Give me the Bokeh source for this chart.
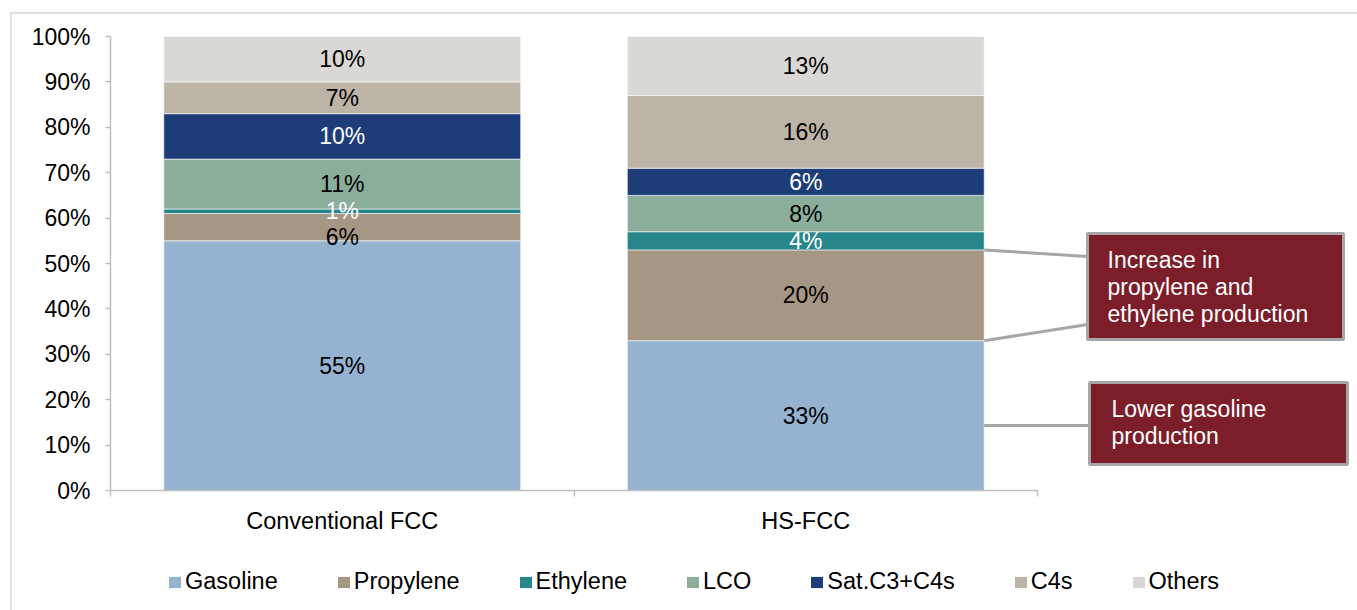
from bokeh.plotting import figure
from bokeh.layouts import column
from bokeh.models import (ColumnDataSource, Range1d, FixedTicker, Legend, LegendItem)
from bokeh.core.properties import value
from bokeh.embed import file_html
from bokeh.resources import INLINE

# ---- data -------------------------------------------------------------
processes = ["Conventional FCC", "HS-FCC"]
products = ["Gasoline", "Propylene", "Ethylene", "LCO", "Sat.C3+C4s", "C4s", "Others"]
gasoline = [55, 33]
propylene = [6, 20]
ethylene = [1, 4]
lco = [11, 8]
sat_c3_c4 = [10, 6]
c4s = [7, 16]
others = [10, 13]
y_ticks = [0, 10, 20, 30, 40, 50, 60, 70, 80, 90, 100]

colors = ["#95B3D0", "#A69784", "#27868B", "#8BAE9B", "#1C3D78", "#BDB4A8", "#DAD8D4"]
label_colors = ["black", "black", "white", "black", "white", "black", "black"]

FONT = "Liberation Sans"
FS = "23px"

series = [gasoline, propylene, ethylene, lco, sat_c3_c4, c4s, others]
x_pos = [0.5, 1.5]
BAR_W = 0.77

# ---- figure layout (pixels) ------------------------------------------
W = 1345
H_MAIN, H_LEG = 540, 56
LEFT, RIGHT, TOP, BOTTOM = 98, 7, 22, 64
frame_w = W - LEFT - RIGHT
frame_h = H_MAIN - TOP - BOTTOM
PX_PER_CAT = 463.5
x_end = frame_w / PX_PER_CAT

p = figure(width=W, height=H_MAIN, output_backend="svg", toolbar_location=None,
           x_range=Range1d(0, x_end), y_range=Range1d(0, 100),
           min_border_left=LEFT, min_border_right=RIGHT,
           min_border_top=TOP, min_border_bottom=BOTTOM,
           background_fill_color="white", border_fill_color="white")
p.outline_line_color = None
p.grid.visible = False

# ---- stacked bars -----------------------------------------------------
data = {"x": x_pos}
for name, vals in zip(products, series):
    data[name] = vals
src = ColumnDataSource(data)
p.vbar_stack(products, x="x", width=BAR_W, source=src,
             fill_color=colors, line_color="white",
             line_width=1, line_alpha=0.6)

# ---- value labels -----------------------------------------------------
lx, ly, lt, lc, loff = [], [], [], [], []
for j, xp in enumerate(x_pos):
    base = 0
    for i, vals in enumerate(series):
        v = vals[j]
        lx.append(xp)
        ly.append(base + v / 2)
        lt.append(f"{v}%")
        lc.append(label_colors[i])
        # the thin propylene slice of the conventional bar sits its label lower
        loff.append(10 if (j == 0 and i == 1) else 0)
        base += v
p.text(x=lx, y=ly, text=lt, text_color=lc, y_offset=loff,
       text_align="center", text_baseline="middle",
       text_font=value(FONT), text_font_size=FS)

# ---- axes -------------------------------------------------------------
AX_COL = "#BFBFBF"
yax = p.yaxis[0]
yax.ticker = FixedTicker(ticks=y_ticks)
yax.major_label_overrides = {t: f"{t}%" for t in y_ticks}
yax.bounds = (0, 100)
yax.axis_line_color = AX_COL
yax.axis_line_width = 1.5
yax.major_tick_line_color = AX_COL
yax.major_tick_line_width = 1.5
yax.major_tick_out = 5
yax.major_tick_in = 0
yax.minor_tick_line_color = None
yax.major_label_standoff = 15
yax.major_label_text_font = FONT
yax.major_label_text_font_size = FS
yax.major_label_text_color = "black"

xax = p.xaxis[0]
xax.ticker = FixedTicker(ticks=x_pos, minor_ticks=[0, 1, 2])
xax.major_label_overrides = {x: n for x, n in zip(x_pos, processes)}
xax.bounds = (0, 2)
xax.axis_line_color = AX_COL
xax.axis_line_width = 1.5
xax.major_tick_line_color = None
xax.major_tick_out = 0
xax.major_tick_in = 0
xax.minor_tick_line_color = AX_COL
xax.minor_tick_line_width = 1.5
xax.minor_tick_out = 6
xax.minor_tick_in = 0
xax.major_label_standoff = 11
xax.major_label_text_font = FONT
xax.major_label_text_font_size = "23.5px"
xax.major_label_text_color = "black"

# ---- callouts ---------------------------------------------------------
PX_PER_PCT = frame_h / 100.0


def px_x(px):
    return (px - 110) / PX_PER_CAT


def px_y(py):
    return (490 - py) / PX_PER_PCT


BOX_FILL = "#7B1E2A"
BOX_LINE = "#A6A6A6"
bar_edge = x_pos[1] + BAR_W / 2
hs_prop_top = gasoline[1] + propylene[1]
hs_gas_top = gasoline[1]

# connector lines from the HS-FCC bar to the callout boxes
p.segment(x0=[bar_edge, bar_edge, bar_edge],
          y0=[hs_prop_top, hs_gas_top, px_y(425)],
          x1=[px_x(1087), px_x(1087), px_x(1089)],
          y1=[px_y(256), px_y(324), px_y(425)],
          line_color=BOX_LINE, line_width=3)

p.quad(left=[px_x(1087), px_x(1089)], right=[px_x(1343), px_x(1347)],
       top=[px_y(233), px_y(382)], bottom=[px_y(339), px_y(464)],
       fill_color=BOX_FILL, line_color=BOX_LINE, line_width=3)

p.text(x=[px_x(1107), px_x(1111)], y=[px_y(246), px_y(395)],
       text=["Increase in\npropylene and\nethylene production",
             "Lower gasoline\nproduction"],
       text_color="white", text_align="left", text_baseline="top",
       text_line_height=1.05, text_font=value(FONT), text_font_size=FS)

# ---- legend strip -----------------------------------------------------
# a separate strip below the chart; its frame lines up with the chart frame
leg = figure(width=W, height=H_LEG, output_backend="svg", toolbar_location=None,
             x_range=Range1d(0, 1), y_range=Range1d(0, 1),
             x_axis_type=None, y_axis_type=None,
             min_border=0, background_fill_color="white", border_fill_color="white")
leg.outline_line_color = None
leg.grid.visible = False
swatches = []
for name, col in zip(products, colors):
    # zero-height bar: only its legend swatch is visible
    r = leg.vbar(x=[0.5], top=[0], bottom=[0], width=0.0, fill_color=col, line_color=None)
    swatches.append(LegendItem(label=name, renderers=[r]))

legend = Legend(items=swatches, orientation="horizontal", location=(57, 15),
                glyph_width=15, glyph_height=14, label_standoff=3, spacing=58,
                padding=0, margin=0, border_line_color=None,
                background_fill_alpha=0, label_text_font=FONT,
                label_text_font_size="23.5px", label_text_color="black")
leg.add_layout(legend)

page = column(p, leg, spacing=0)
page.styles = {"margin-left": "10px", "margin-top": "12px",
               "border-left": "2px solid #E2E2E2", "border-top": "2px solid #E2E2E2"}

open("out.html", "w").write(file_html(page, INLINE))
